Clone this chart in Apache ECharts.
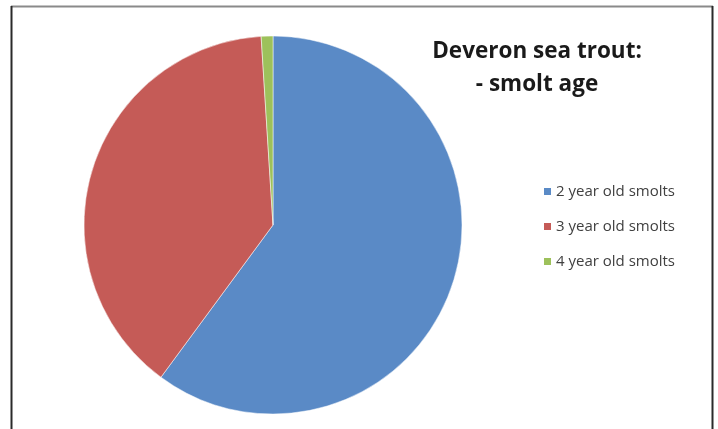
<!DOCTYPE html>
<html><head><meta charset="utf-8">
<script src="https://cdn.jsdelivr.net/npm/echarts@6/dist/echarts.min.js"></script>
<style>html,body{margin:0;padding:0;background:#fff}#c{width:718px;height:429px}</style>
</head><body><div id="c"></div>
<script>
const categories = ['2 year old smolts', '3 year old smolts', '4 year old smolts'];
const values = [60.1, 38.9, 1.0];
const colors = ['#5A8AC6', '#C55B57', '#9DC15B'];
const titleText = 'Deveron sea trout:\n- smolt age';

const chart = echarts.init(document.getElementById('c'), null, {renderer: 'canvas'});
chart.setOption({
  backgroundColor: '#fff',
  animation: false,
  graphic: [
    {type: 'line', shape: {x1: 11, y1: 6.5, x2: 713, y2: 6.5}, style: {stroke: '#8a8a8a', lineWidth: 2}},
    {type: 'line', shape: {x1: 11.5, y1: 6, x2: 11.5, y2: 429}, style: {stroke: '#2a2a2a', lineWidth: 2}},
    {type: 'line', shape: {x1: 712.5, y1: 6, x2: 712.5, y2: 429}, style: {stroke: '#2a2a2a', lineWidth: 2}}
  ],
  title: {
    text: titleText,
    left: 532, top: 30, textAlign: 'center',
    textStyle: {fontFamily: 'Open Sans', fontSize: 22.5, fontWeight: 'bold', color: '#1a1a1a', lineHeight: 33}
  },
  legend: {
    orient: 'vertical', left: 537, top: 179,
    icon: 'rect', itemWidth: 9, itemHeight: 9, itemGap: 20,
    textStyle: {fontFamily: 'Open Sans', fontSize: 15, color: '#404040', lineHeight: 15, padding: [0,0,0,-1]},
    data: categories
  },
  series: [{
    type: 'pie',
    center: [273, 225], radius: 189,
    startAngle: 90, clockwise: true,
    label: {show: false}, labelLine: {show: false},
    itemStyle: {borderColor: '#ffffff', borderWidth: 0.5},
    emphasis: {disabled: true},
    data: categories.map((c, i) => ({name: c, value: values[i], itemStyle: {color: colors[i]}}))
  }]
});
</script></body></html>
